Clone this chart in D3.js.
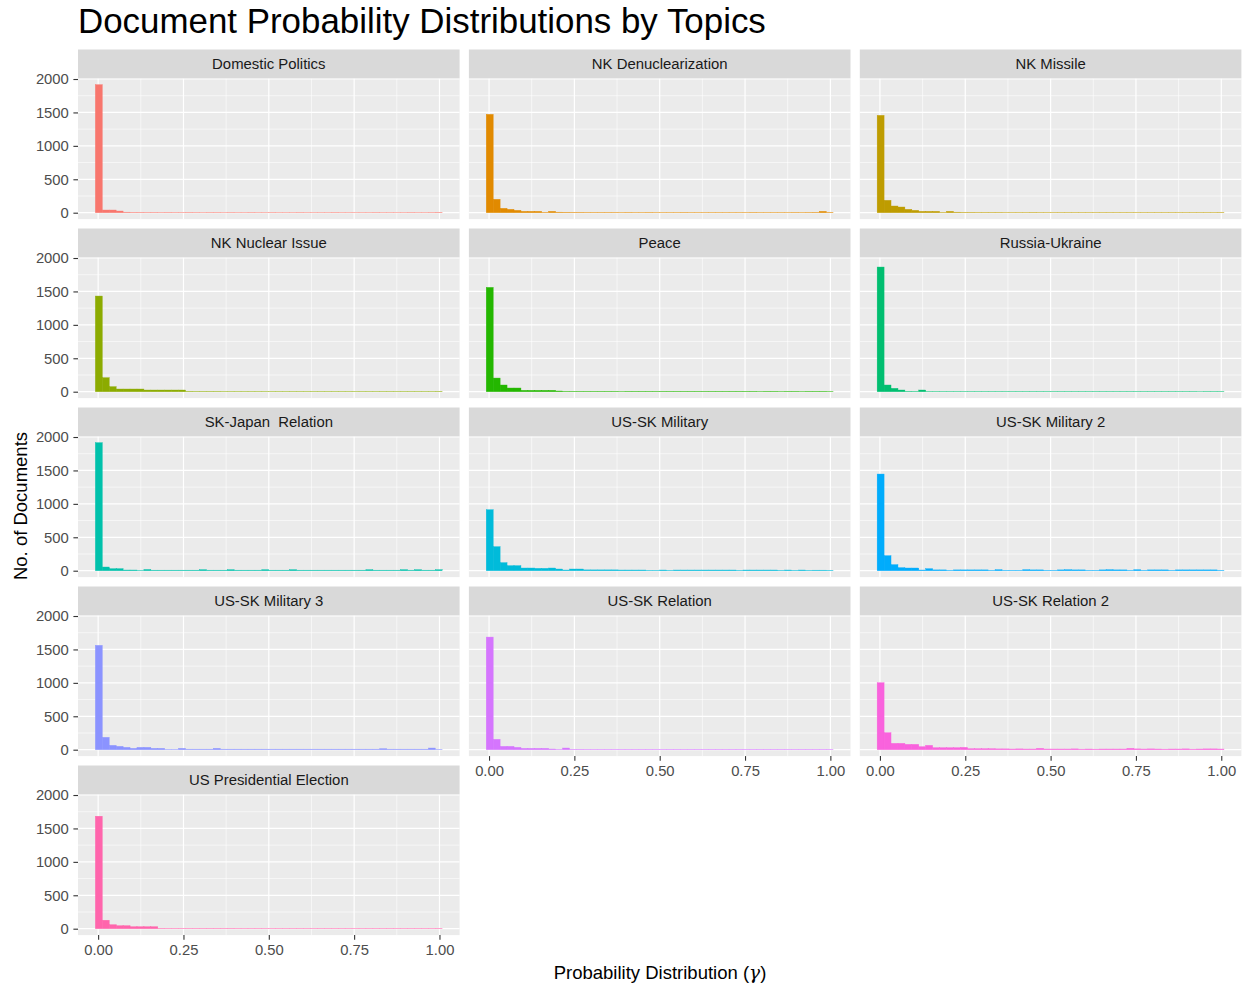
<!DOCTYPE html>
<html>
<head>
<meta charset="utf-8">
<script src="https://cdn.jsdelivr.net/npm/d3@7"></script>
<style>
  body { margin: 0; background: #fff; }
  svg text { font-family: "Liberation Sans", Arial, sans-serif; }
</style>
</head>
<body>
<div id="chart"></div>
<script>
// topics in facet order
var topics = ["Domestic Politics", "NK Denuclearization", "NK Missile", "NK Nuclear Issue",
  "Peace", "Russia-Ukraine", "SK-Japan  Relation", "US-SK Military", "US-SK Military 2",
  "US-SK Military 3", "US-SK Relation", "US-SK Relation 2", "US Presidential Election"];

// histogram counts, 50 bins each
var domesticPolitics = [1915,40,40,25,8,6,6,5,5,4, 5,4,4,5,4,3,4,4,3,4, 3,3,4,3,3,4,3,3,3,4, 3,3,3,3,4,3,3,3,3,3, 4,3,3,3,3,4,3,3,4,6];
var nkDenuclearization = [1471,200,65,50,35,20,20,20,6,20, 8,7,6,6,5,5,5,5,5,4, 5,4,4,5,4,4,4,4,5,4, 4,4,4,4,4,4,4,4,5,4, 4,4,4,4,5,4,5,6,20,6];
var nkMissile = [1456,185,100,85,50,35,20,20,20,5, 20,8,6,6,5,5,5,5,4,4, 4,4,5,4,4,4,4,4,4,4, 4,4,4,4,4,4,4,4,4,4, 4,4,4,4,4,4,4,4,4,5];
var nkNuclearIssue = [1431,209,75,40,40,40,40,25,25,25, 25,25,25,6,5,5,5,5,4,4, 4,4,4,4,4,4,4,4,4,4, 4,4,4,4,4,4,4,4,4,4, 4,4,4,4,4,4,4,4,4,5];
var peace = [1560,204,100,55,55,20,20,20,20,20, 10,6,6,6,6,6,6,6,6,4, 6,6,6,6,6,6,6,6,6,6, 6,6,6,6,6,6,6,6,6,4, 6,6,4,6,6,4,6,6,6,4];
var russiaUkraine = [1865,100,50,25,6,5,25,4,4,4, 4,4,4,4,4,4,4,4,4,4, 4,4,4,4,4,4,4,4,4,4, 4,4,4,4,4,4,4,4,4,4, 4,4,4,4,4,4,2,4,4,4];
var skJapan = [1915,55,30,30,10,10,5,18,8,8, 8,8,8,8,8,15,8,8,8,15, 8,8,8,8,15,8,8,8,15,8, 8,8,8,8,8,8,8,8,8,15, 8,8,8,8,15,8,15,8,8,15];
var usSkMilitary = [912,359,120,75,75,40,40,35,35,40, 25,10,25,25,12,12,12,12,12,10, 10,10,10,6,6,10,6,10,10,10, 10,10,10,10,10,10,6,10,10,10, 10,10,6,10,6,10,6,8,8,6];
var usSkMilitary2 = [1446,224,90,45,40,40,10,30,12,12, 6,12,12,12,12,12,6,15,6,6, 6,15,12,12,6,6,12,15,12,12, 6,6,12,15,12,12,6,15,6,12, 12,12,6,12,12,12,12,12,12,6];
var usSkMilitary3 = [1561,185,65,50,35,20,35,35,20,20, 5,5,20,8,8,8,8,20,8,8, 8,8,8,8,8,8,8,8,8,8, 8,8,8,8,8,8,8,8,8,8, 8,15,8,8,8,8,8,8,25,5];
var usSkRelation = [1685,155,50,50,35,20,20,20,20,10, 5,25,6,6,5,5,5,5,5,5, 5,5,5,5,5,5,5,5,5,5, 5,5,5,5,5,5,5,5,5,5, 5,5,5,5,5,5,5,5,5,5];
var usSkRelation2 = [1002,254,95,95,80,80,45,65,30,30, 30,30,35,15,15,15,15,12,12,10, 12,10,10,20,10,10,10,10,12,8, 10,8,10,10,10,10,20,12,10,12, 10,8,10,10,12,8,10,12,12,10];
var usElection = [1683,127,60,45,45,30,30,30,30,6, 5,5,5,5,5,5,5,5,5,5, 4,4,4,4,4,4,4,4,4,4, 4,4,4,4,4,4,4,4,4,4, 4,4,4,4,4,4,4,4,4,5];

var counts = [domesticPolitics, nkDenuclearization, nkMissile, nkNuclearIssue, peace,
  russiaUkraine, skJapan, usSkMilitary, usSkMilitary2, usSkMilitary3, usSkRelation,
  usSkRelation2, usElection];

// centre of first and last bin
var binLo = 0.002, binHi = 0.998;
var xTicks = [0, 0.25, 0.5, 0.75, 1];
var yTicks = [0, 500, 1000, 1500, 2000];

var palette = ["#F8766D","#E18A00","#BE9C00","#8CAB00","#24B700","#00BE70","#00C1AB",
  "#00BBDA","#00ACFC","#8B93FF","#D575FE","#F962DD","#FF65AC"];

var width = 1249, height = 989;
var left = 78, colW = 381.6, gap = 9.3;
var top0 = 49.5, stripH = 28.8, panelH = 140.8, rowStep = 179;

var svg = d3.select("#chart").append("svg")
  .attr("width", width).attr("height", height);

svg.append("rect").attr("width", width).attr("height", height).attr("fill", "#fff");

var nb = counts[0].length;
var bw = (binHi - binLo) / (nb - 1);
var ext = [binLo - bw / 2, binHi + bw / 2];
var span = ext[1] - ext[0];
var maxCount = d3.max(counts, function (c) { return d3.max(c); });

topics.forEach(function (topic, i) {
  var col = i % 3, row = Math.floor(i / 3);
  var px = left + col * (colW + gap);
  var sy = top0 + row * rowStep;
  var py = sy + stripH;

  var x = d3.scaleLinear()
    .domain([ext[0] - 0.05 * span, ext[1] + 0.05 * span])
    .range([px, px + colW]);
  var y = d3.scaleLinear()
    .domain([-0.05 * maxCount, 1.05 * maxCount])
    .range([py + panelH, py]);

  var g = svg.append("g");
  g.append("rect").attr("x", px).attr("y", py).attr("width", colW).attr("height", panelH)
    .attr("fill", "#EBEBEB");

  // minor grid
  var xMinor = [0.125, 0.375, 0.625, 0.875];
  var yMinor = [250, 750, 1250, 1750];
  g.selectAll(".xmin").data(xMinor).enter().append("line")
    .attr("x1", x).attr("x2", x).attr("y1", py).attr("y2", py + panelH)
    .attr("stroke", "#fff").attr("stroke-width", 0.6);
  g.selectAll(".ymin").data(yMinor).enter().append("line")
    .attr("x1", px).attr("x2", px + colW).attr("y1", y).attr("y2", y)
    .attr("stroke", "#fff").attr("stroke-width", 0.6);
  // major grid
  g.selectAll(".xmaj").data(xTicks).enter().append("line")
    .attr("x1", x).attr("x2", x).attr("y1", py).attr("y2", py + panelH)
    .attr("stroke", "#fff").attr("stroke-width", 1.2);
  g.selectAll(".ymaj").data(yTicks).enter().append("line")
    .attr("x1", px).attr("x2", px + colW).attr("y1", y).attr("y2", y)
    .attr("stroke", "#fff").attr("stroke-width", 1.2);

  // bars
  g.selectAll(".bar").data(counts[i]).enter().append("rect")
    .attr("x", function (d, k) { return x(binLo + k * bw - bw / 2); })
    .attr("width", function (d, k) { return x(binLo + k * bw + bw / 2) - x(binLo + k * bw - bw / 2); })
    .attr("y", function (d) { return y(d); })
    .attr("height", function (d) { return y(0) - y(d); })
    .attr("fill", palette[i])
    .attr("stroke", palette[i])
    .attr("stroke-width", 0.4);

  // strip
  g.append("rect").attr("x", px).attr("y", sy).attr("width", colW).attr("height", stripH)
    .attr("fill", "#D9D9D9");
  g.append("text").attr("x", px + colW / 2).attr("y", sy + stripH / 2 + 5.3)
    .attr("text-anchor", "middle").style("font-size", "14.9px").style("white-space", "pre")
    .attr("fill", "#1A1A1A")
    .text(topic);

  // y axis on first column
  if (col === 0) {
    var ya = g.append("g").attr("transform", "translate(" + px + ",0)")
      .call(d3.axisLeft(y).tickValues(yTicks).tickSize(4.6).tickPadding(4.6).tickFormat(d3.format("d")));
    ya.select(".domain").remove();
    ya.selectAll("line").attr("stroke", "#333333").attr("stroke-width", 1.1);
    ya.selectAll("text").attr("fill", "#4D4D4D").style("font-size", "14.8px")
      .style("font-family", "Liberation Sans, Arial, sans-serif");
  }
  // x axis under bottom panel of each column
  var below = i + 3;
  if (below >= topics.length) {
    var xa = g.append("g").attr("transform", "translate(0," + (py + panelH) + ")")
      .call(d3.axisBottom(x).tickValues(xTicks).tickSize(4.6).tickPadding(4.8).tickFormat(d3.format(".2f")));
    xa.select(".domain").remove();
    xa.selectAll("line").attr("stroke", "#333333").attr("stroke-width", 1.1);
    xa.selectAll("text").attr("fill", "#4D4D4D").style("font-size", "14.8px")
      .style("font-family", "Liberation Sans, Arial, sans-serif");
  }
});

// titles
svg.append("text").attr("x", 78).attr("y", 33)
  .style("font-size", "34.9px").attr("fill", "#000")
  .text("Document Probability Distributions by Topics");

svg.append("text")
  .attr("transform", "translate(27,506) rotate(-90)")
  .attr("text-anchor", "middle").style("font-size", "18.5px").attr("fill", "#000")
  .text("No. of Documents");

var xt = svg.append("text").attr("x", 660).attr("y", 979)
  .attr("text-anchor", "middle").style("font-size", "18.5px").attr("fill", "#000");
xt.append("tspan").text("Probability Distribution (");
xt.append("tspan").style("font-family", "DejaVu Serif, Liberation Serif, serif")
  .style("font-style", "italic").text("\u03B3");
xt.append("tspan").text(")");
</script>
</body>
</html>
